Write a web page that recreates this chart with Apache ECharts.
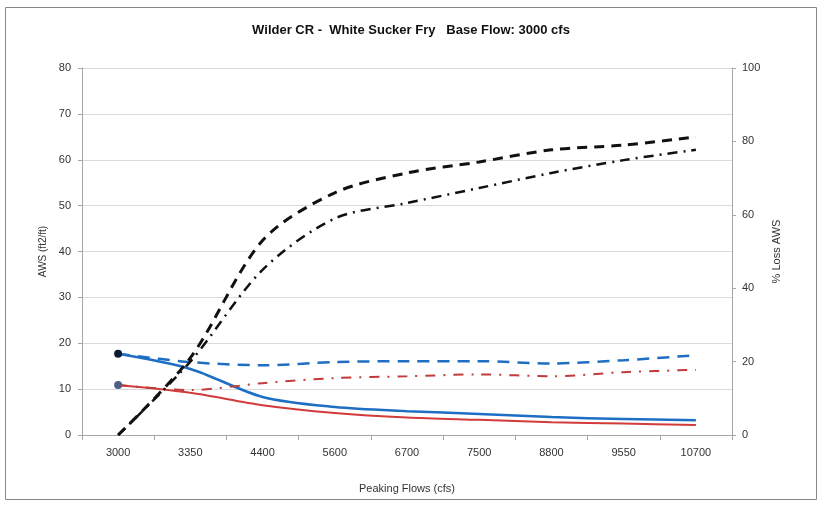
<!DOCTYPE html>
<html>
<head>
    <meta charset="UTF-8">
    <script src="https://cdn.jsdelivr.net/npm/echarts@6/dist/echarts.min.js"></script>
    <style>
        html, body { margin: 0; padding: 0; background: #fff; }
        #main { width: 822px; height: 505px; }
    </style>
</head>
<body>
<div id="main"></div>
<script type="text/javascript">
    // peaking flows (cfs)
    var flows = ['3000', '3350', '4400', '5600', '6700', '7500', '8800', '9550', '10700'];
    // AWS (ft2/ft), left axis
    var awsBlue = [17.7, 14.4, 8.3, 6.1, 5.2, 4.6, 3.9, 3.5, 3.2];
    var awsRed = [10.9, 9.2, 6.5, 4.8, 3.8, 3.3, 2.8, 2.5, 2.2];
    var awsBlueDash = [17.7, 15.9, 15.2, 15.9, 16.1, 16.1, 15.6, 16.3, 17.4];
    var awsRedDash = [10.9, 9.8, 11.3, 12.4, 12.8, 13.2, 12.8, 13.7, 14.2];
    // % loss AWS, right axis
    var lossDash = [0, 21, 53, 66, 71.4, 74.4, 77.7, 79, 81.2];
    var lossDashDot = [0, 20, 45, 59, 63.2, 67.3, 71.4, 74.9, 77.7];

    function firstDot(arr, color) {
        return arr.map(function (v, i) {
            return i === 0 ? {value: v, symbol: 'circle', symbolSize: 8, itemStyle: {color: color}} : {value: v, symbol: 'none'};
        });
    }

    var myChart = echarts.init(document.getElementById('main'));
    var textColor = '#333';
    var option = {
        animation: false,
        backgroundColor: '#fff',
        title: {
            text: 'Wilder CR -  White Sucker Fry   Base Flow: 3000 cfs',
            left: 'center',
            top: 19,
            textStyle: {fontFamily: 'Liberation Sans', fontSize: 13, fontWeight: 'bold', color: '#111'}
        },
        graphic: [{
            type: 'rect',
            shape: {x: 5.5, y: 7.5, width: 811, height: 492},
            style: {fill: 'none', stroke: '#888', lineWidth: 1}
        }],
        grid: {left: 82, right: 90, top: 68, bottom: 70},
        xAxis: {
            type: 'category',
            data: flows,
            boundaryGap: true,
            name: 'Peaking Flows (cfs)',
            nameLocation: 'middle',
            nameGap: 48,
            nameTextStyle: {fontFamily: 'Liberation Sans', fontSize: 11, color: textColor},
            axisLine: {lineStyle: {color: '#a6a6a6'}},
            axisTick: {show: true, length: 5, lineStyle: {color: '#a6a6a6'}},
            axisLabel: {fontFamily: 'Liberation Sans', fontSize: 11, color: textColor, margin: 12}
        },
        yAxis: [{
            type: 'value',
            min: 0, max: 80, interval: 10,
            name: 'AWS (ft2/ft)',
            nameLocation: 'middle',
            nameGap: 31,
            nameRotate: 90,
            nameTextStyle: {fontFamily: 'Liberation Sans', fontSize: 10, color: textColor},
            axisLine: {show: true, lineStyle: {color: '#a6a6a6'}},
            axisTick: {show: true, length: 4, lineStyle: {color: '#a6a6a6'}},
            axisLabel: {fontFamily: 'Liberation Sans', fontSize: 11, color: textColor, margin: 11},
            splitLine: {lineStyle: {color: '#dadada'}}
        }, {
            type: 'value',
            min: 0, max: 100, interval: 20,
            position: 'right',
            name: '% Loss AWS',
            nameLocation: 'middle',
            nameGap: 38,
            nameRotate: 90,
            nameTextStyle: {fontFamily: 'Liberation Sans', fontSize: 11, color: textColor},
            axisLine: {show: true, lineStyle: {color: '#a6a6a6'}},
            axisTick: {show: true, length: 4, lineStyle: {color: '#a6a6a6'}},
            axisLabel: {fontFamily: 'Liberation Sans', fontSize: 11, color: textColor, margin: 10},
            splitLine: {show: false}
        }],
        series: [
            {
                name: 'blue', type: 'line', smooth: 0.3, yAxisIndex: 0,
                data: firstDot(awsBlue, '#0b1a33'),
                lineStyle: {color: '#1e6fc4', width: 2.5}
            },
            {
                name: 'red', type: 'line', smooth: 0.3, yAxisIndex: 0,
                data: firstDot(awsRed, '#4f5c86'),
                lineStyle: {color: '#d23b3b', width: 2}
            },
            {
                name: 'blue dash', type: 'line', smooth: 0.3, yAxisIndex: 0, symbol: 'none',
                data: awsBlueDash,
                lineStyle: {color: '#1e6fc4', width: 2.5, type: [12, 8]}
            },
            {
                name: 'red dash', type: 'line', smooth: 0.3, yAxisIndex: 0, symbol: 'none',
                data: awsRedDash,
                lineStyle: {color: '#c23b3b', width: 2, type: [10, 8, 2, 8]}
            },
            {
                name: 'loss dash', type: 'line', smooth: 0.3, yAxisIndex: 1, symbol: 'none',
                data: lossDash,
                lineStyle: {color: '#111', width: 3, type: [10, 7]}
            },
            {
                name: 'loss dashdot', type: 'line', smooth: 0.3, yAxisIndex: 1, symbol: 'none',
                data: lossDashDot,
                lineStyle: {color: '#111', width: 2.5, type: [10, 6, 2, 6]}
            }
        ]
    };
    myChart.setOption(option);
</script>
</body>
</html>
